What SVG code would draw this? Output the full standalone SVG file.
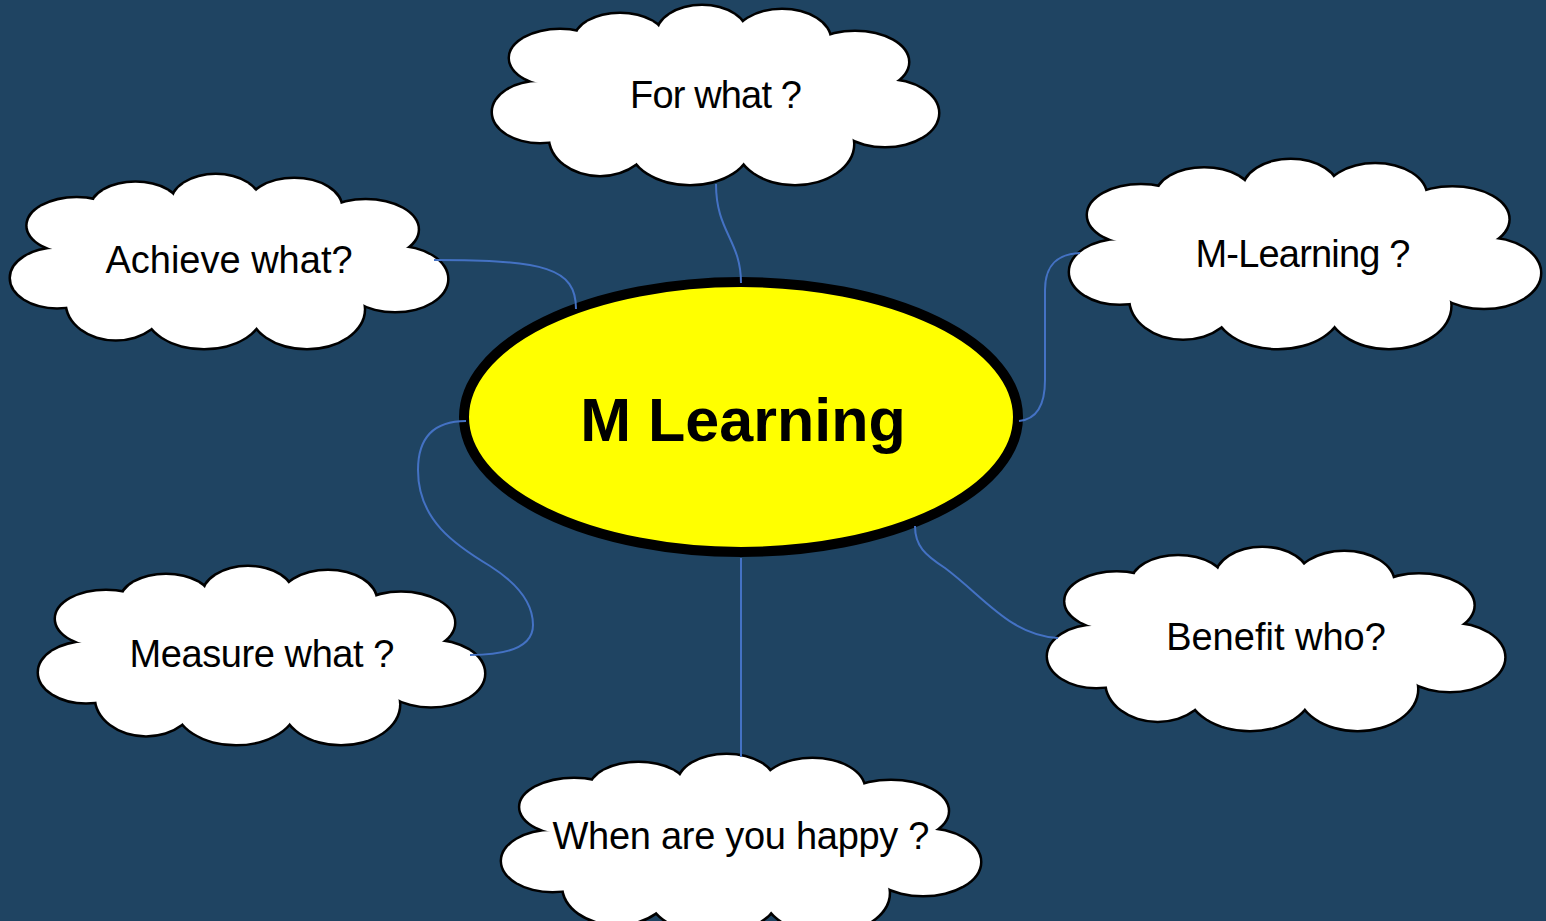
<svg xmlns="http://www.w3.org/2000/svg" xmlns:xlink="http://www.w3.org/1999/xlink" width="1546" height="921" viewBox="0 0 1546 921">
<style>
.lobes ellipse { vector-effect: non-scaling-stroke; }
.cloud-outline { fill: #000; stroke: #000; stroke-width: 5; }
.cloud-fill { fill: #fff; stroke: none; }
.label { font-family: "Liberation Sans", Arial, sans-serif; font-size: 38px; fill: #000; text-anchor: middle; }
.title { font-family: "Liberation Sans", Arial, sans-serif; font-size: 61px; font-weight: bold; fill: #000; text-anchor: middle; }
.conn { fill: none; stroke: #4472C4; stroke-width: 2; }
</style>
<defs>
<g id="lobes" class="lobes">
<ellipse cx="68" cy="52" rx="50" ry="28"/>
<ellipse cx="128" cy="34" rx="45" ry="26"/>
<ellipse cx="210" cy="29" rx="45" ry="29"/>
<ellipse cx="290" cy="34" rx="48" ry="30"/>
<ellipse cx="363" cy="56" rx="53" ry="30"/>
<ellipse cx="393" cy="107" rx="53" ry="33"/>
<ellipse cx="303" cy="138" rx="58" ry="40"/>
<ellipse cx="198" cy="139" rx="60" ry="39"/>
<ellipse cx="108" cy="131" rx="50" ry="38"/>
<ellipse cx="48" cy="106" rx="47" ry="30"/>
<ellipse cx="223" cy="89" rx="170" ry="60"/>
</g>
<g id="cloud">
<use xlink:href="#lobes" href="#lobes" class="cloud-outline"/>
<use xlink:href="#lobes" href="#lobes" class="cloud-fill"/>
</g>
</defs>
<rect x="0" y="0" width="1546" height="921" fill="#1F4462"/>

<g id="center-node">
<ellipse cx="741" cy="417" rx="277" ry="135" fill="#FFFF00" stroke="#000" stroke-width="10"/>
<text class="title" x="743" y="441">M Learning</text>
</g>

<g id="node-for-what">
<use href="#cloud" xlink:href="#cloud" transform="translate(492,6)"/>
<text class="label" x="716" y="108" textLength="172" lengthAdjust="spacing">For what ?</text>
</g>

<g id="node-achieve-what">
<use href="#cloud" xlink:href="#cloud" transform="translate(10,175) scale(0.98,0.972)"/>
<text class="label" x="229" y="273">Achieve what?</text>
</g>

<g id="node-m-learning">
<use href="#cloud" xlink:href="#cloud" transform="translate(1069,160) scale(1.056,1.056)"/>
<text class="label" x="1303" y="267" textLength="215" lengthAdjust="spacing">M-Learning ?</text>
</g>

<g id="node-measure-what">
<use href="#cloud" xlink:href="#cloud" transform="translate(38,567) scale(1.0,0.995)"/>
<text class="label" x="262" y="667" textLength="265" lengthAdjust="spacing">Measure what ?</text>
</g>

<g id="node-benefit-who">
<use href="#cloud" xlink:href="#cloud" transform="translate(1047,548) scale(1.025,1.022)"/>
<text class="label" x="1276" y="650">Benefit who?</text>
</g>

<g id="node-when-happy">
<use href="#cloud" xlink:href="#cloud" transform="translate(501,755) scale(1.074,1.0)"/>
<text class="label" x="741" y="849" textLength="377" lengthAdjust="spacing">When are you happy ?</text>
</g>

<g id="connectors">
<path class="conn" d="M716,184 C716,232 741,240 741,283"/>
<path class="conn" d="M434,260 C545,260 576,268 576,309"/>
<path class="conn" d="M1019,421 C1040,419 1045,400 1045,380 L1045,290 C1045,264 1058,254 1080,253"/>
<path class="conn" d="M466,421 C432,421 418,440 418,470 C418,520 455,545 490,566 C520,585 533,605 533,625 C533,645 512,655 470,655"/>
<path class="conn" d="M915,526 C915,546 925,555 945,568 C985,598 1010,635 1058,638"/>
<path class="conn" d="M741,558 L741,757"/>
</g>
</svg>
